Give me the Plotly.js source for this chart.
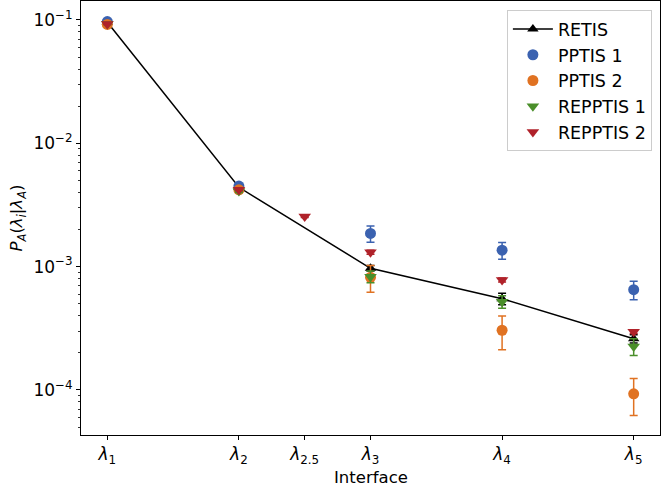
<!DOCTYPE html>
<html><head><meta charset="utf-8">
<script src="https://cdn.plot.ly/plotly-3.0.1.min.js"></script>
<style>html,body{margin:0;padding:0;background:#fff}#plot{width:662px;height:487px}</style>
</head><body><div id="plot"></div>
<script>
const tickPos = [1, 2, 2.5, 3, 4, 5];
const tickLabels = ['<i>λ</i><sub>1</sub>','<i>λ</i><sub>2</sub>','<i>λ</i><sub>2.5</sub>','<i>λ</i><sub>3</sub>','<i>λ</i><sub>4</sub>','<i>λ</i><sub>5</sub>'];

const retisX = [1, 2, 3, 4, 5];
const retisY = [0.096, 4.4e-3, 9.7e-4, 5.5e-4, 2.6e-4];
const retisErr = [0.002, 0.12e-3, 0.05e-3, 0.06e-3, 0.02e-3];

const pptis1X = [1, 2, 3, 4, 5];
const pptis1Y = [0.097, 4.5e-3, 1.86e-3, 1.36e-3, 6.5e-4];
const pptis1Err = [0.001, 0.1e-3, 0.28e-3, 0.21e-3, 0.11e-3];

const pptis2X = [1, 2, 3, 4, 5];
const pptis2Y = [0.092, 4.2e-3, 8.2e-4, 3.05e-4, 9.3e-5];
const pptis2Err = [0.001, 0.1e-3, 0.2e-3, 0.093e-3, 0.031e-3];

const repptis1X = [1, 2, 3, 4, 5];
const repptis1Y = [0.093, 4.1e-3, 8.3e-4, 5.2e-4, 2.25e-4];
const repptis1Err = [0.001, 0.1e-3, 0.09e-3, 0.06e-3, 0.035e-3];

const repptis2X = [1, 2, 2.5, 3, 4, 5];
const repptis2Y = [0.093, 4.2e-3, 2.55e-3, 1.31e-3, 7.8e-4, 2.97e-4];
const repptis2Err = [0.001, 0.05e-3, 0.05e-3, 0.05e-3, 0.03e-3, 0.01e-3];

const yTickVals = [1e-4, 1e-3, 1e-2, 1e-1];
const yTickText = ['10<sup>−4</sup>','10<sup>−3</sup>','10<sup>−2</sup>','10<sup>−1</sup>'];

const minorVals = [];
for (let e = -5; e <= -1; e++) for (let m = 2; m <= 9; m++) minorVals.push(m * Math.pow(10, e));

function err(arr, color) {
  return {type: 'data', array: arr, visible: true, color: color, thickness: 1.5, width: 4};
}

const traces = [
  {x: retisX, y: retisY, name: 'RETIS', mode: 'lines+markers', type: 'scatter',
   line: {color: '#000', width: 1.5}, marker: {symbol: 'triangle-up', size: 10, color: '#000'},
   error_y: err(retisErr, '#000')},
  {x: pptis1X, y: pptis1Y, name: 'PPTIS 1', mode: 'markers', type: 'scatter',
   marker: {symbol: 'circle', size: 11, color: '#3b62b0'}, error_y: err(pptis1Err, '#3b62b0')},
  {x: pptis2X, y: pptis2Y, name: 'PPTIS 2', mode: 'markers', type: 'scatter',
   marker: {symbol: 'circle', size: 11, color: '#e07222'}, error_y: err(pptis2Err, '#e07222')},
  {x: repptis1X, y: repptis1Y, name: 'REPPTIS 1', mode: 'markers', type: 'scatter',
   marker: {symbol: 'triangle-down', size: 11, color: '#4a8f2a'}, error_y: err(repptis1Err, '#4a8f2a')},
  {x: repptis2X, y: repptis2Y, name: 'REPPTIS 2', mode: 'markers', type: 'scatter',
   marker: {symbol: 'triangle-down', size: 11, color: '#b0222a'}, error_y: err(repptis2Err, '#b0222a')}
];

const layout = {
  width: 662, height: 487,
  margin: {l: 81, r: 2, t: 1, b: 52},
  paper_bgcolor: '#fff', plot_bgcolor: '#fff',
  font: {family: 'DejaVu Sans', size: 16.5, color: '#000'},
  showlegend: true,
  legend: {x: 0.986, y: 0.979, xanchor: 'right', yanchor: 'top', itemwidth: 40,
    bordercolor: '#cccccc', borderwidth: 1, bgcolor: 'rgba(255,255,255,0.8)',
    font: {family: 'DejaVu Sans', size: 17.5}},
  xaxis: {range: [0.8, 5.2], tickmode: 'array', tickvals: tickPos, ticktext: tickLabels,
    ticks: 'outside', ticklen: 4, tickwidth: 1, tickcolor: '#000',
    showline: true, linecolor: '#000', linewidth: 1, mirror: true, showgrid: false, zeroline: false,
    tickfont: {size: 17}},
  yaxis: {type: 'log', range: [-4.365, -0.846], tickmode: 'array', tickvals: yTickVals, ticktext: yTickText,
    ticks: 'outside', ticklen: 4, tickwidth: 1, tickcolor: '#000',
    minor: {tickmode: 'array', tickvals: minorVals, ticks: 'outside', ticklen: 2, tickwidth: 0.8, tickcolor: '#000', showgrid: false},
    showline: true, linecolor: '#000', linewidth: 1, mirror: true, showgrid: false, zeroline: false,
    tickfont: {size: 17},
    title: {text: '<i>P</i><sub><i>A</i></sub>(<i>λ</i><sub><i>i</i></sub>|<i>λ</i><sub><i>A</i></sub>)', font: {size: 16.5}, standoff: 6}},
  annotations: [{text: 'Interface', xref: 'paper', yref: 'paper', x: 0.5, y: -0.099,
    xanchor: 'center', yanchor: 'middle', showarrow: false, font: {size: 16.5}}]
};

Plotly.newPlot('plot', traces, layout, {displayModeBar: false, staticPlot: true});
</script></body></html>
